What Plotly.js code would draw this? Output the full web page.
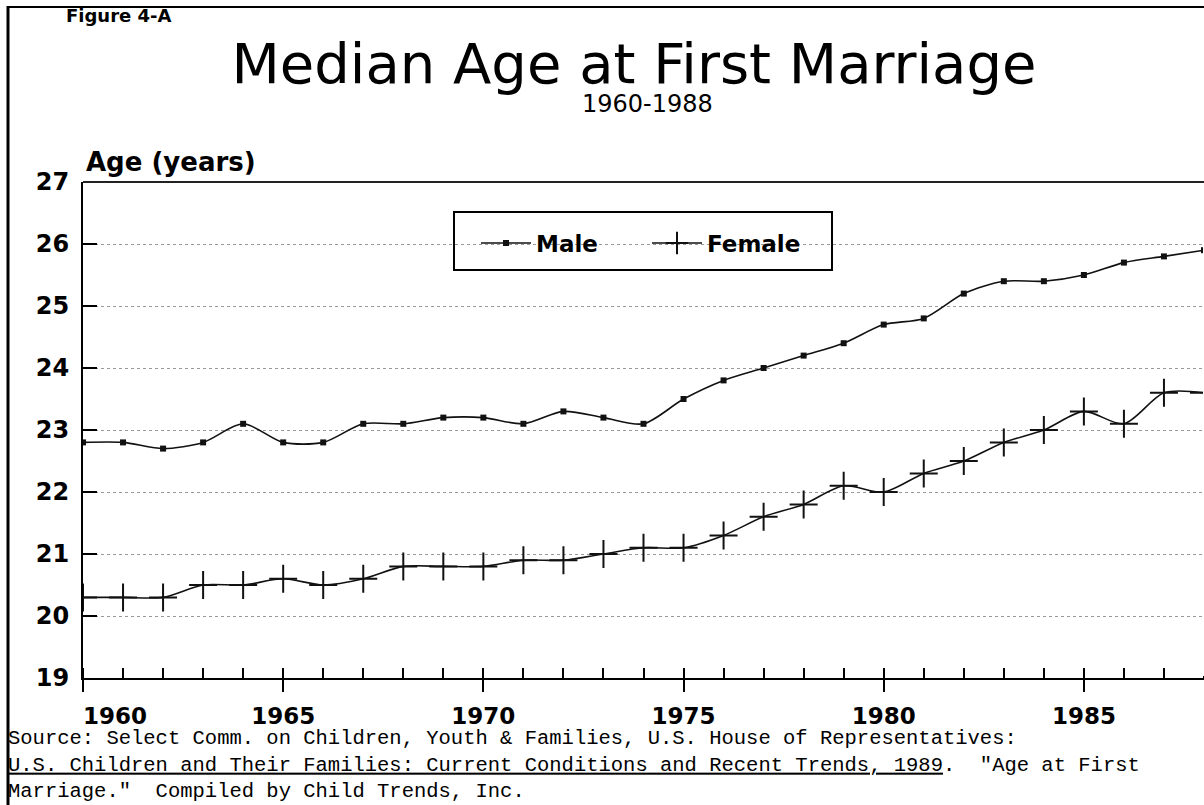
<!DOCTYPE html>
<html>
<head>
<meta charset="utf-8">
<script src="https://cdn.plot.ly/plotly-3.0.1.min.js"></script>
<style>html,body{margin:0;padding:0;background:#fff;}#chart{width:1204px;height:805px;}</style>
</head>
<body>
<div id="chart"></div>
<script>
var years = [1960,1961,1962,1963,1964,1965,1966,1967,1968,1969,1970,1971,1972,1973,1974,1975,1976,1977,1978,1979,1980,1981,1982,1983,1984,1985,1986,1987,1988];
var maleAge = [22.8,22.8,22.7,22.8,23.1,22.8,22.8,23.1,23.1,23.2,23.2,23.1,23.3,23.2,23.1,23.5,23.8,24.0,24.2,24.4,24.7,24.8,25.2,25.4,25.4,25.5,25.7,25.8,25.9];
var femaleAge = [20.3,20.3,20.3,20.5,20.5,20.6,20.5,20.6,20.8,20.8,20.8,20.9,20.9,21.0,21.1,21.1,21.3,21.6,21.8,22.1,22.0,22.3,22.5,22.8,23.0,23.3,23.1,23.6,23.6];
var tickYears = [1960,1965,1970,1975,1980,1985];
var tickLabels = ['\u00a0\u00a0\u00a0\u00a0\u00a0\u00a0\u00a0\u00a01960','1965','1970','1975','1980','1985'];
var seriesNames = ['Male','Female'];

var F = 'DejaVu Sans';
var traces = [
  {x: years, y: maleAge, name: seriesNames[0], type: 'scatter', mode: 'lines+markers',
   xaxis: 'x', yaxis: 'y', legend: 'legend',
   line: {color: '#111', width: 1.6, shape: 'spline', smoothing: 0.8},
   marker: {symbol: 'square', size: 6, color: '#111'}},
  {x: years, y: femaleAge, name: seriesNames[1], type: 'scatter', mode: 'lines+markers',
   xaxis: 'x2', yaxis: 'y', legend: 'legend2',
   line: {color: '#111', width: 1.6, shape: 'spline', smoothing: 0.8},
   marker: {symbol: 'cross-thin-open', size: 20, line: {color: '#111', width: 2}}}
];

var L = 83, T = 182, B = 678, W = 1121, H = B - T;
function px(x){ return (x - L) / W; }
function py(y){ return (B - y) / H; }

var legendBase = {xanchor: 'left', yanchor: 'middle', y: py(243),
  bgcolor: 'rgba(0,0,0,0)', borderwidth: 0, itemwidth: 50,
  font: {family: F, size: 23, weight: 'bold', color: '#000'}};

var layout = {
  width: 1204, height: 805,
  margin: {l: L, r: 0, t: T, b: 805 - B},
  paper_bgcolor: '#fff', plot_bgcolor: '#fff',
  showlegend: true,
  title: {text: 'Median Age at First Marriage', x: 634/1204, xref: 'container', xanchor: 'center',
          y: 1 - 63/805, yref: 'container', yanchor: 'middle',
          font: {family: F, size: 56, color: '#000'}},
  xaxis: {range: [1960, 1988], tickmode: 'linear', tick0: 1960, dtick: 5,
          ticks: 'outside', ticklen: 12, tickwidth: 2, tickcolor: '#000',
          minor: {tickmode: 'linear', tick0: 1960, dtick: 1, ticks: 'inside', ticklen: 10, tickwidth: 2, tickcolor: '#000', showgrid: false},
          showticklabels: false, showline: true, linewidth: 2, linecolor: '#000', mirror: false,
          showgrid: false, zeroline: false, fixedrange: true},
  xaxis2: {range: [1960, 1988], overlaying: 'x', anchor: 'y', side: 'bottom',
           tickmode: 'array', tickvals: tickYears, ticktext: tickLabels,
           ticks: 'inside', ticklen: 10, tickwidth: 2, tickcolor: '#000',
           ticklabelstandoff: 22,
           tickfont: {family: F, size: 23, weight: 'bold', color: '#000'},
           showline: false, showgrid: false, zeroline: false, fixedrange: true},
  yaxis: {range: [19, 27], tickmode: 'linear', tick0: 19, dtick: 1,
          ticks: 'inside', ticklen: 14, tickwidth: 2, tickcolor: '#000',
          ticklabelstandoff: 7,
          tickfont: {family: F, size: 24, weight: 'bold', color: '#000'},
          showline: true, linewidth: 2, linecolor: '#000', mirror: false,
          showgrid: true, gridcolor: '#9a9a9a', griddash: 'dot', gridwidth: 1,
          zeroline: false, fixedrange: true},
  legend: Object.assign({}, legendBase, {x: px(476)}),
  legend2: Object.assign({}, legendBase, {x: px(647)}),
  annotations: [
    {text: '1960-1988', xref: 'paper', yref: 'paper', x: px(647), y: py(104), xanchor: 'center', yanchor: 'middle',
     showarrow: false, font: {family: F, size: 24, color: '#000'}},
    {text: 'Figure 4-A', xref: 'paper', yref: 'paper', x: px(64), y: py(15), xanchor: 'left', yanchor: 'middle',
     showarrow: false, font: {family: F, size: 18, weight: 'bold', color: '#000'}},
    {text: 'Age (years)', xref: 'paper', yref: 'paper', x: px(84), y: py(162), xanchor: 'left', yanchor: 'middle',
     showarrow: false, font: {family: F, size: 26, weight: 'bold', color: '#000'}},
    {text: 'Source: Select Comm. on Children, Youth &amp; Families, U.S. House of Representatives:<br>' +
           '<u>U.S. Children and Their Families: Current Conditions and Recent Trends, 1989</u>.\u00a0\u00a0"Age at First<br>' +
           'Marriage."\u00a0\u00a0Compiled by Child Trends, Inc.',
     xref: 'paper', yref: 'paper', x: px(6), y: py(765), xanchor: 'left', yanchor: 'middle', align: 'left',
     showarrow: false, font: {family: 'Liberation Mono', size: 20.5, color: '#000'}}
  ],
  shapes: [
    {type: 'line', xref: 'paper', yref: 'paper', x0: 1, x1: 1, y0: 0.004, y1: 0.996, line: {color: '#fff', width: 2}, layer: 'above'},
    {type: 'line', xref: 'paper', yref: 'paper', x0: 0, x1: 1, y0: 1, y1: 1, line: {color: '#222', width: 2}},
    {type: 'line', xref: 'paper', yref: 'paper', x0: px(8), x1: px(8), y0: py(6), y1: py(805), line: {color: '#000', width: 3}},
    {type: 'line', xref: 'paper', yref: 'paper', x0: px(8), x1: px(1204), y0: py(7), y1: py(7), line: {color: '#000', width: 2}},
    {type: 'rect', xref: 'paper', yref: 'paper', x0: px(454), x1: px(832), y0: py(212), y1: py(270),
     line: {color: '#000', width: 2}, fillcolor: '#fff', layer: 'below'}
  ]
};

Plotly.newPlot('chart', traces, layout, {staticPlot: true, displayModeBar: false});
</script>
</body>
</html>
